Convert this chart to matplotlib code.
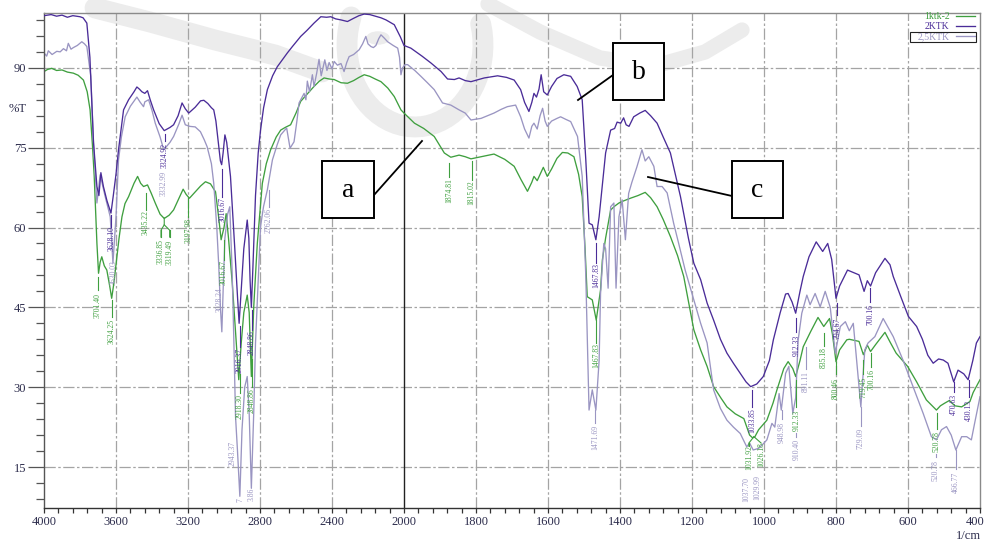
import numpy as np
import matplotlib
matplotlib.use("Agg")
import matplotlib.pyplot as plt
from matplotlib.patches import Rectangle, Circle
from matplotlib.lines import Line2D

plt.rcParams['font.family'] = ['Liberation Serif', 'DejaVu Serif']

# ---------------- data (wavenumber 1/cm, %T) ----------------
series_names = ["1ktk-2", "2KTK", "2,5KTK"]
series_colors = ["#3f9f3f", "#4a2c98", "#9a95c2"]

green_pts = [
    (4000, 89.3), (3980, 89.7), (3957, 89.9), (3930, 89.5), (3900, 89.6), (3870, 89.2),
    (3837, 89.0), (3810, 88.6), (3781, 87.7), (3760, 85.5), (3744, 82.1), (3730, 75.0),
    (3721, 69.6), (3706, 57.0), (3697, 51.4), (3688, 53.5), (3679, 54.5), (3665, 52.8),
    (3651, 52.0), (3635, 49.0), (3624, 46.7), (3612, 49.5), (3599, 53.3), (3583, 58.0),
    (3567, 62.0), (3550, 64.5), (3530, 65.8), (3500, 68.3), (3480, 69.6), (3463, 68.3),
    (3447, 67.7), (3425, 68.0), (3405, 66.5), (3382, 64.6), (3355, 62.5), (3332, 61.7),
    (3305, 62.3), (3280, 63.3), (3250, 65.5), (3227, 67.2), (3210, 66.2), (3192, 65.5),
    (3165, 66.5), (3130, 67.8), (3103, 68.6), (3075, 68.2), (3047, 66.7), (3030, 62.0),
    (3016, 57.7), (3000, 60.0), (2988, 62.6), (2975, 58.0), (2954, 49.5), (2935, 40.0),
    (2918, 31.4), (2905, 38.0), (2890, 44.0), (2871, 47.3), (2860, 44.0), (2848, 32.0),
    (2835, 45.0), (2815, 57.0), (2800, 63.0), (2787, 68.3), (2765, 72.0), (2741, 74.6),
    (2710, 77.0), (2685, 78.3), (2660, 78.8), (2630, 79.3), (2600, 81.5), (2574, 83.7),
    (2540, 85.0), (2500, 86.5), (2470, 87.5), (2444, 88.1), (2415, 87.9), (2388, 87.8),
    (2350, 87.2), (2314, 87.1), (2280, 87.6), (2250, 88.2), (2221, 88.7), (2190, 88.4),
    (2160, 87.9), (2128, 87.4), (2090, 86.2), (2054, 84.6), (2017, 82.1), (2000, 81.5),
    (1971, 79.6), (1945, 78.6), (1916, 77.1), (1888, 74.0), (1870, 73.2), (1847, 73.6),
    (1830, 73.3), (1814, 72.9), (1785, 73.3), (1750, 73.8), (1720, 72.8), (1694, 71.5),
    (1675, 69.0), (1657, 66.8), (1645, 68.5), (1639, 69.6), (1630, 68.8), (1622, 70.0),
    (1613, 71.3), (1602, 69.6), (1590, 71.0), (1575, 73.0), (1560, 74.1), (1545, 74.0),
    (1528, 73.3), (1515, 70.0), (1505, 65.8), (1497, 56.0), (1491, 47.0), (1477, 46.4),
    (1466, 42.6), (1454, 48.3), (1449, 53.9), (1440, 58.0), (1426, 63.3), (1415, 64.0),
    (1403, 64.6), (1390, 65.0), (1371, 65.5), (1350, 66.0), (1330, 66.6), (1315, 65.6),
    (1297, 63.9), (1280, 61.5), (1260, 58.3), (1240, 54.7), (1223, 50.8), (1195, 40.8),
    (1176, 37.0), (1158, 33.9), (1140, 30.1), (1120, 28.0), (1103, 26.3), (1080, 25.0),
    (1056, 24.1), (1040, 21.0), (1032, 20.5), (1026, 20.6), (1015, 22.0), (992, 23.8),
    (975, 27.0), (964, 29.5), (945, 33.5), (933, 34.8), (920, 33.5), (912, 32.0),
    (900, 35.0), (891, 37.6), (870, 40.5), (850, 43.1), (834, 41.4), (818, 42.9),
    (810, 40.0), (800, 34.8), (790, 37.0), (770, 38.9), (763, 39.0), (736, 38.6),
    (724, 36.1), (713, 37.9), (704, 36.7), (690, 38.0), (664, 40.3), (650, 38.5),
    (633, 36.4), (601, 33.9), (576, 31.0), (549, 27.6), (530, 26.3), (521, 25.7),
    (510, 26.5), (498, 27.0), (485, 27.5), (470, 26.5), (451, 26.3), (435, 27.0),
    (428, 27.3), (419, 29.0), (400, 31.4),
]

dark_pts = [
    (4000, 99.8), (3960, 100.0), (3930, 99.7), (3900, 99.9), (3870, 99.5), (3840, 99.8),
    (3800, 99.6), (3783, 99.4), (3762, 98.4), (3745, 92.0), (3725, 76.0), (3706, 67.7),
    (3695, 66.0), (3684, 70.3), (3670, 67.7), (3650, 65.0), (3628, 62.7), (3615, 66.0),
    (3600, 70.0), (3586, 74.6), (3558, 82.1), (3530, 84.0), (3500, 85.5), (3484, 86.4),
    (3470, 86.0), (3456, 85.5), (3440, 85.2), (3425, 85.7), (3410, 84.0), (3391, 82.1),
    (3360, 79.5), (3332, 78.2), (3300, 78.8), (3280, 79.3), (3255, 81.0), (3233, 83.4),
    (3215, 82.3), (3196, 81.5), (3160, 82.6), (3130, 83.8), (3112, 83.9), (3090, 83.3),
    (3070, 82.5), (3057, 82.1), (3045, 80.0), (3035, 77.0), (3020, 72.5), (3013, 71.8),
    (3005, 74.0), (2995, 77.4), (2985, 76.0), (2964, 69.6), (2940, 56.0), (2925, 47.0),
    (2916, 42.0), (2905, 48.0), (2890, 56.0), (2871, 61.4), (2862, 58.0), (2855, 50.0),
    (2848, 45.0), (2840, 52.0), (2825, 66.0), (2810, 74.0), (2797, 78.3), (2780, 82.5),
    (2759, 85.9), (2730, 88.5), (2704, 90.2), (2680, 91.3), (2648, 92.8), (2620, 94.0),
    (2574, 95.9), (2540, 97.0), (2500, 98.4), (2462, 99.6), (2430, 99.5), (2407, 99.6),
    (2380, 99.2), (2350, 99.0), (2314, 98.7), (2280, 99.3), (2250, 99.8), (2221, 100.1),
    (2190, 100.0), (2160, 99.7), (2128, 99.4), (2100, 99.0), (2054, 98.1), (2020, 95.8),
    (2000, 94.2), (1981, 93.7), (1950, 92.2), (1925, 90.9), (1897, 89.3), (1879, 87.9),
    (1860, 87.8), (1847, 88.1), (1830, 87.6), (1814, 87.4), (1777, 88.1), (1740, 88.5),
    (1715, 88.2), (1694, 87.7), (1676, 85.9), (1665, 83.5), (1653, 81.8), (1645, 83.5),
    (1639, 85.2), (1632, 84.5), (1625, 86.0), (1619, 88.7), (1612, 85.5), (1602, 84.9),
    (1590, 86.5), (1575, 88.0), (1556, 88.7), (1537, 88.4), (1519, 86.5), (1505, 84.0),
    (1495, 72.7), (1486, 60.8), (1477, 60.5), (1467, 57.7), (1458, 62.0), (1449, 68.0),
    (1440, 74.0), (1426, 78.3), (1415, 78.6), (1408, 79.8), (1398, 79.6), (1390, 80.6),
    (1383, 79.3), (1375, 79.0), (1362, 80.8), (1345, 81.5), (1330, 82.0), (1315, 81.0),
    (1297, 79.6), (1280, 77.0), (1260, 74.0), (1232, 65.8), (1210, 58.0), (1195, 53.3),
    (1176, 50.2), (1158, 45.8), (1140, 42.6), (1121, 39.0), (1103, 36.4), (1085, 34.5),
    (1066, 32.6), (1050, 31.0), (1037, 30.1), (1020, 30.6), (1002, 32.0), (985, 35.0),
    (974, 38.9), (955, 44.0), (940, 47.5), (933, 47.6), (922, 46.0), (912, 43.9),
    (900, 48.0), (891, 50.8), (875, 54.5), (855, 57.3), (837, 55.5), (823, 57.0),
    (812, 54.0), (800, 46.7), (790, 49.0), (768, 52.0), (750, 51.5), (736, 51.1),
    (722, 48.0), (713, 50.0), (704, 49.0), (690, 51.5), (664, 54.2), (650, 53.0),
    (641, 50.8), (620, 47.0), (599, 43.3), (576, 41.4), (560, 39.0), (545, 36.0),
    (530, 34.5), (515, 35.3), (502, 35.1), (489, 34.5), (473, 31.0), (461, 33.2),
    (445, 32.5), (433, 31.4), (420, 35.0), (410, 38.3), (400, 39.5),
]

light_pts = [
    (4000, 92.8), (3985, 92.2), (3976, 93.2), (3955, 92.5), (3929, 93.1), (3910, 93.0),
    (3892, 93.6), (3875, 93.2), (3865, 94.6), (3850, 93.5), (3837, 93.8), (3815, 94.2),
    (3790, 94.9), (3775, 94.5), (3762, 94.0), (3750, 91.0), (3740, 88.4), (3725, 75.9),
    (3706, 64.6), (3688, 69.9), (3675, 68.0), (3660, 65.8), (3632, 62.0), (3617, 53.3),
    (3600, 62.0), (3586, 72.7), (3570, 77.0), (3549, 80.8), (3520, 82.8), (3484, 84.5),
    (3465, 83.5), (3447, 82.7), (3440, 83.6), (3419, 84.0), (3400, 82.0), (3382, 79.6),
    (3355, 77.0), (3335, 74.6), (3300, 76.0), (3280, 77.1), (3250, 79.5), (3233, 81.1),
    (3215, 79.3), (3190, 79.0), (3160, 78.9), (3131, 78.0), (3110, 76.5), (3094, 75.2),
    (3070, 72.0), (3057, 68.3), (3040, 60.0), (3029, 52.7), (3020, 45.0), (3012, 40.4),
    (3005, 48.0), (2995, 58.0), (2980, 62.5), (2968, 63.9), (2955, 52.0), (2945, 38.3),
    (2936, 24.5), (2925, 18.0), (2912, 9.5), (2900, 22.0), (2885, 30.0), (2871, 32.0),
    (2860, 25.0), (2848, 11.0), (2835, 25.0), (2825, 38.3), (2810, 50.0), (2797, 60.2),
    (2780, 64.0), (2759, 67.1), (2731, 72.7), (2705, 75.5), (2685, 77.4), (2652, 78.7),
    (2633, 74.9), (2611, 76.1), (2595, 80.0), (2583, 83.4), (2555, 85.2), (2545, 84.0),
    (2537, 87.5), (2525, 85.5), (2509, 88.7), (2500, 86.5), (2485, 89.0), (2472, 91.6),
    (2460, 88.5), (2440, 91.5), (2428, 89.5), (2416, 91.0), (2400, 89.8), (2388, 91.2),
    (2370, 90.5), (2350, 90.8), (2333, 89.3), (2318, 91.0), (2305, 92.1), (2280, 92.5),
    (2249, 93.4), (2230, 94.5), (2212, 95.9), (2200, 94.5), (2184, 94.0), (2170, 93.8),
    (2156, 94.2), (2140, 95.5), (2128, 96.2), (2110, 95.6), (2091, 94.9), (2060, 94.2),
    (2035, 93.7), (2025, 92.0), (2017, 88.7), (2008, 90.0), (1997, 90.6), (1990, 90.6),
    (1970, 89.5), (1953, 88.4), (1935, 87.2), (1916, 85.9), (1893, 83.4), (1870, 83.0),
    (1847, 82.1), (1830, 81.5), (1814, 80.2), (1786, 80.5), (1750, 81.5), (1730, 82.2),
    (1713, 82.7), (1690, 83.0), (1676, 80.8), (1665, 78.5), (1653, 76.8), (1645, 79.0),
    (1639, 79.6), (1630, 78.5), (1622, 81.0), (1615, 82.4), (1608, 80.0), (1602, 79.0),
    (1590, 80.0), (1575, 80.5), (1565, 80.8), (1550, 80.3), (1537, 79.9), (1518, 77.1),
    (1505, 69.6), (1495, 50.8), (1486, 25.7), (1477, 29.5), (1467, 25.7), (1458, 35.0),
    (1454, 47.6), (1445, 57.0), (1440, 56.0), (1433, 48.6), (1426, 63.9), (1417, 64.6),
    (1411, 48.6), (1403, 62.0), (1394, 65.2), (1385, 57.7), (1376, 66.4), (1367, 68.5),
    (1353, 71.4), (1339, 74.6), (1330, 72.5), (1320, 73.3), (1306, 71.5), (1297, 67.7),
    (1283, 67.7), (1269, 66.5), (1251, 60.8), (1237, 57.0), (1219, 52.0), (1195, 46.4),
    (1176, 42.0), (1158, 38.3), (1140, 29.5), (1121, 26.0), (1103, 23.8), (1085, 22.5),
    (1066, 21.3), (1048, 18.8), (1040, 19.5), (1030, 18.2), (1015, 18.5), (1000, 19.5),
    (992, 20.1), (978, 23.2), (970, 22.5), (958, 28.8), (952, 25.7), (940, 32.6),
    (931, 33.9), (920, 25.1), (912, 28.0), (905, 38.9), (895, 43.9), (881, 47.3),
    (872, 45.5), (858, 47.6), (844, 45.1), (830, 48.0), (816, 45.0), (802, 36.4),
    (788, 41.4), (774, 42.3), (763, 40.6), (752, 42.0), (738, 31.4), (731, 26.3),
    (720, 37.0), (711, 38.3), (692, 39.5), (669, 42.9), (641, 39.5), (614, 35.1),
    (586, 30.1), (558, 25.1), (535, 20.7), (521, 20.1), (507, 22.0), (493, 22.6),
    (480, 21.0), (467, 18.2), (451, 20.7), (437, 20.7), (424, 20.1), (415, 23.2),
    (400, 28.2),
]

x_major = [4000, 3600, 3200, 2800, 2400, 2000, 1800, 1600, 1400, 1200, 1000, 800, 600, 400]
y_major = [15, 30, 45, 60, 75, 90]

# peak labels: text, x (1/cm), text centre (%T), tick top, tick bottom, series index
peak_labels = [
    ("3701.40", 3701, 45.3, 50.7, 48.3, 0),
    ("3624.25", 3624, 40.4, 46.4, 43.2, 0),
    ("3628.10", 3626, 58.0, 62.4, 60.1, 1),
    ("3630.03", 3614, 51.5, None, None, 2),
    ("3435.22", 3435, 60.9, 66.5, 63.3, 0),
    ("3336.85", 3350, 55.4, 59.5, 58.2, 0),
    ("3319.49", 3302, 55.4, 59.5, 58.2, 0),
    ("3332.99", 3334, 68.3, None, None, 2),
    ("3324.92", 3330, 73.6, 77.5, 76.2, 1),
    ("3197.98", 3198, 59.4, 65.6, 62.0, 0),
    ("3016.67", 3010, 63.3, 71.0, 65.8, 1),
    ("3016.67", 3002, 51.5, 57.7, 53.9, 0),
    ("3028.24", 3022, 46.4, None, None, 2),
    ("2916.37", 2912, 35.1, 41.5, 37.6, 1),
    ("2918.30", 2912, 26.3, 32.4, 28.9, 0),
    ("2943.37", 2950, 17.6, None, None, 2),
    ("7", 2911, 8.8, None, None, 2),
    ("2848.86", 2846, 38.3, 44.5, 40.8, 1),
    ("2848.86", 2846, 27.4, 35.3, 30.0, 0),
    ("3.86", 2846, 9.9, None, None, 2),
    ("2762.06", 2752, 61.4, 67.1, 63.9, 2),
    ("1874.81", 1875, 67.0, 72.1, 69.5, 0),
    ("1815.02", 1812, 66.5, 72.4, 69.0, 0),
    ("1467.83", 1466, 50.9, 57.1, 53.3, 1),
    ("1467.83", 1467, 36.0, 42.6, 38.3, 0),
    ("1471.69", 1470, 20.6, 25.7, 23.3, 2),
    ("1033.85", 1033, 23.8, 29.5, 26.3, 1),
    ("1031.92", 1042, 16.7, 19.5, 18.9, 0),
    ("1026.18", 1008, 17.3, 19.5, 19.5, 0),
    ("1037.70", 1048, 10.7, None, None, 2),
    ("1029.99", 1019, 11.1, None, None, 2),
    ("948.98", 950, 21.4, 25.7, 24.0, 2),
    ("912.33", 910, 37.9, 43.0, 40.3, 1),
    ("912.33", 910, 23.8, 31.4, 26.3, 0),
    ("910.40", 910, 18.2, 21.4, 20.6, 2),
    ("891.11", 884, 31.0, 37.6, 33.4, 2),
    ("835.18", 834, 35.5, 40.2, 37.8, 0),
    ("794.67", 796, 41.1, 45.8, 43.6, 1),
    ("800.46", 800, 29.8, 34.8, 32.4, 0),
    ("729.09", 731, 20.4, 26.3, 22.7, 2),
    ("719.45", 725, 30.0, 35.1, 32.4, 0),
    ("700.16", 702, 31.4, 36.4, 33.8, 0),
    ("700.16", 705, 43.6, 48.6, 46.0, 1),
    ("520.78", 520, 19.7, 25.1, 22.1, 0),
    ("520.78", 523, 14.4, 17.4, 16.8, 2),
    ("470.63", 473, 26.7, 31.0, 29.1, 1),
    ("430.13", 431, 25.7, 31.4, 28.1, 1),
    ("466.77", 467, 12.2, 18.2, 14.6, 2),
]

# ---------------- figure ----------------
W, H = 987, 541
fig = plt.figure(figsize=(W / 100, H / 100), dpi=100)


def fx(px):
    return px / W


def fy(py):
    return 1 - py / H


# faint background watermark (drawn in figure pixels)
wm_col = "#ececec"


def wm_line(pts, width):
    p = np.array(pts, float)
    fig.add_artist(Line2D(p[:, 0] / W, 1 - p[:, 1] / H, transform=fig.transFigure,
                          color=wm_col, lw=width, solid_capstyle='round',
                          solid_joinstyle='round', zorder=-5))


t = np.radians(np.linspace(200, -15, 40))
wm_line(np.c_[415 + 68 * np.cos(t), 45 + 82 * np.sin(t)], 15)
wm_line([(95, 8), (150, 22), (215, 40), (275, 55), (322, 72)], 15)
wm_line([(488, 4), (540, 32), (600, 58), (655, 66), (705, 52), (742, 30)], 11)
fig.add_artist(Circle((fx(378), fy(38)), 11 / W, transform=fig.transFigure,
                      color=wm_col, zorder=-5))

ax = fig.add_axes([fx(44), fy(508), fx(980) - fx(44), fy(13) - fy(508)])
ax.patch.set_visible(False)


def fwd(x):
    x = np.asarray(x, float)
    return np.where(x >= 2000, x, 2 * x - 2000)


def inv(u):
    u = np.asarray(u, float)
    return np.where(u >= 2000, u, (u + 2000) / 2)


ax.set_xscale('function', functions=(fwd, inv))
ax.set_xlim(4000, 400)
ax.set_ylim(7.3, 100.3)

# grid
grid_kw = dict(color="#a4a4a4", lw=0.9, ls=(0, (9, 2, 2, 2)), zorder=0.5)
for xv in x_major[1:-1]:
    if xv == 2000:
        ax.axvline(xv, color="#222222", lw=1.0, zorder=0.6)
    else:
        ax.axvline(xv, **grid_kw)
for yv in y_major:
    ax.axhline(yv, **grid_kw)

# spectra
lines = []
for pts, name, col, z in [(green_pts, series_names[0], series_colors[0], 2),
                          (dark_pts, series_names[1], series_colors[1], 3),
                          (light_pts, series_names[2], series_colors[2], 2.5)]:
    arr = np.array(pts)
    ln, = ax.plot(arr[:, 0], arr[:, 1], color=col, lw=0.95, label=name, zorder=z)
    lines.append(ln)

# peak labels
for txt, xw, yc, t0, t1, k in peak_labels:
    c = series_colors[k]
    ax.text(xw, yc, txt, rotation=90, ha='center', va='center', fontsize=5.5,
            color=c, clip_on=True, zorder=4)
    if t0 is not None:
        ax.plot([xw, xw], [t0, t1], color=c, lw=0.8, zorder=4)

# brackets
gc = series_colors[0]
ax.plot([3332, 3332, 3350, 3350], [61.8, 60.5, 59.5, 58.2], color=gc, lw=0.8, zorder=4)
ax.plot([3332, 3302, 3302], [60.5, 59.5, 58.2], color=gc, lw=0.8, zorder=4)
ax.plot([1028, 1042, 1042], [20.7, 19.5, 18.9], color=gc, lw=0.8, zorder=4)
ax.plot([1028, 1008], [20.7, 19.5], color=gc, lw=0.8, zorder=4)

# ticks
ax.set_xticks(x_major)
ax.set_xticklabels([str(v) for v in x_major[:-1]] + [""])
minor_x = list(range(4000, 2000, -80)) + list(range(2000, 399, -40))
ax.set_xticks(minor_x, minor=True)
ax.set_yticks(y_major)
ax.set_yticklabels([str(v) for v in y_major])
ax.set_yticks([v for v in range(9, 100, 3) if v % 15 != 0], minor=True)

ax.tick_params(axis='x', which='both', direction='out', length=3.6, width=0.9,
               color="#333333", labelsize=9, labelcolor="#2c2c4c", pad=2.5)
ax.tick_params(axis='y', which='major', direction='out', length=11.5, width=0.9,
               color="#555555", labelsize=9, labelcolor="#2c2c4c", pad=1.2)
ax.tick_params(axis='y', which='minor', direction='out', length=5.8, width=0.9,
               color="#555555")

for side, col in [('left', '#555555'), ('bottom', '#333333'), ('top', '#8a8a8a'), ('right', '#8a8a8a')]:
    ax.spines[side].set_color(col)
    ax.spines[side].set_linewidth(1.0)

fig.text(fx(975), fy(522), str(x_major[-1]), ha='center', va='center', fontsize=9, color="#2c2c4c")
fig.text(fx(17.5), fy(109), "%T", ha='center', va='center', fontsize=9, color="#2c2c4c")
fig.text(fx(968), fy(536), "1/cm", ha='center', va='center', fontsize=9, color="#2c2c4c")

# legend
leg = ax.legend(handles=lines, loc='upper right', bbox_to_anchor=(fx(975), fy(12)),
                bbox_transform=fig.transFigure, frameon=False, markerfirst=False,
                fontsize=7, handlelength=2.0, handletextpad=0.6, labelspacing=0.1,
                borderpad=0, borderaxespad=0, labelcolor='linecolor')
fig.add_artist(Rectangle((fx(910), fy(42)), fx(976) - fx(910), fy(32) - fy(42),
                         transform=fig.transFigure, fill=False, ec='#222222', lw=0.8))

# annotation boxes
for letter, (x0, y0, x1, y1), (lx0, ly0, lx1, ly1) in [
        ("a", (322, 161, 374, 218), (374, 195, 422, 141)),
        ("b", (613, 43, 664, 100), (613, 75, 578, 100)),
        ("c", (732, 161, 783, 218), (732, 196, 648, 177))]:
    fig.add_artist(Line2D([fx(lx0), fx(lx1)], [fy(ly0), fy(ly1)], transform=fig.transFigure,
                          color='black', lw=1.3, zorder=10))
    fig.add_artist(Rectangle((fx(x0), fy(y1)), fx(x1) - fx(x0), fy(y0) - fy(y1),
                             transform=fig.transFigure, fc='white', ec='black', lw=1.4, zorder=10))
    fig.text(fx((x0 + x1) / 2), fy((y0 + y1) / 2 + 1), letter, ha='center', va='center',
             fontsize=20, color='black', zorder=11)

fig.savefig("out.png", dpi=100)
